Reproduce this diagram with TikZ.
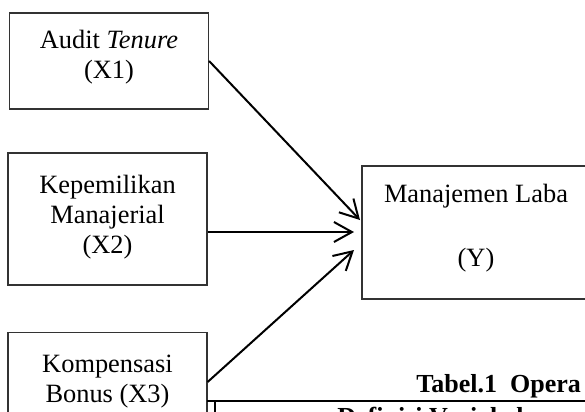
\documentclass[tikz,border=0pt]{standalone}
\usepackage{fontspec}
\setmainfont{Liberation Serif}
\usetikzlibrary{arrows.meta}
\begin{document}
\begin{tikzpicture}[x=0.5pt, y=-0.5pt,
	box/.style={draw=black!80, line width=0.6pt, inner sep=0pt, minimum width=99.5pt},
	txt/.style={align=center, inner sep=0pt, font=\fontsize{13.2}{15}\selectfont},
	arr/.style={line width=1pt, -{Straight Barb[length=9pt,width=10pt]}},
	rule/.style={line width=0.8pt}]
	\clip (0,0) rectangle (585,412);

	% variables
	\node[box, minimum height=48pt, label={[txt, yshift=2pt]center:{Audit \textit{Tenure}\\(X1)}}]	(x1)	at (109, 61)	{};
	\node[box, minimum height=66pt, label={[txt, yshift=1pt]center:{Kepemilikan\\Manajerial\\(X2)}}]	(x2)	at (107.5, 219)	{};
	\node[box, minimum height=49.5pt, label={[txt]center:{Kompensasi\\Bonus (X3)}}]	(x3)	at (107.5, 382)	{};
	\node[box, minimum width=114pt, minimum height=66.5pt, label={[txt, yshift=2pt]center:{Manajemen Laba\\[17pt](Y)}}]	(y)	at (476, 232.5)	{};

	\coordinate	(t1)	at (360, 220);
	\coordinate	(t2)	at (354, 232);
	\coordinate	(t3)	at (354, 250);
	\draw[arr] (x1.east) -- (t1);
	\draw[arr] (x2.east |- t2) -- (t2);
	\draw[arr] (x3.east) -- (t3);

	% table below
	\node[txt, anchor=base west, font=\fontsize{13}{15}\selectfont\bfseries]	(tab)	at (416, 392)	{Tabel.1\ \ Opera};
	\node[txt, anchor=base west, font=\fontsize{13}{15}\selectfont\bfseries]	(def)	at (337, 425)	{Definisi Variabel};
	\coordinate	(c1)	at (207, 401);
	\coordinate	(c2)	at (590, 401);
	\coordinate	(c3)	at (215, 401);
	\coordinate	(c4)	at (215, 420);
	\draw[rule] (c1) -- (c2);
	\draw[rule] (c3) -- (c4);
\end{tikzpicture}
\end{document}
